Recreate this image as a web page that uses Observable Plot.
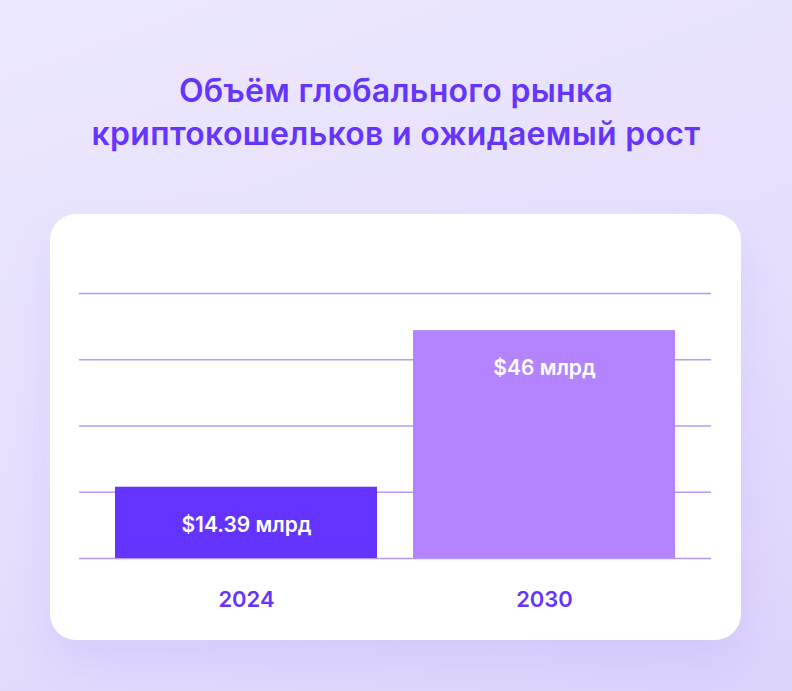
<!DOCTYPE html>
<html>
<head>
<meta charset="utf-8">
<script src="https://cdn.jsdelivr.net/npm/d3@7"></script>
<script src="https://cdn.jsdelivr.net/npm/@observablehq/plot@0.6"></script>
<style>
  html, body { margin: 0; padding: 0; }
  body {
    width: 792px; height: 691px; overflow: hidden; position: relative;
    background: linear-gradient(160deg, #ece8fe 0%, #e6dffd 55%, #ddd3fb 100%);
    font-family: Inter, "Noto Sans", sans-serif;
  }
  #title {
    position: absolute; left: 0; top: 69px; width: 792px;
    text-align: center; color: #6535fb; font-weight: 600;
    font-size: 32px; line-height: 43px; letter-spacing: 0.3px;
  }
  #card {
    position: absolute; left: 50px; top: 214px; width: 691px; height: 426px;
    background: #ffffff; border-radius: 26px;
    box-shadow: 0 22px 44px rgba(110, 70, 250, 0.10);
  }
  #card svg { display: block; }
</style>
</head>
<body>
<div id="title">Объём глобального рынка<br>криптокошельков и ожидаемый рост</div>
<div id="card"></div>
<script>
const years = ["2024", "2030"];
const values = [14.39, 46];
const labels = ["$14.39 млрд", "$46 млрд"];
const barColors = ["#6433ff", "#b483ff"];
const gridValues = [0, 13.4, 26.75, 40.1, 53.5];
const yMax = 53.5;

const data = years.map((y, i) => ({year: y, value: values[i], label: labels[i], color: barColors[i]}));

const chart = Plot.plot({
  width: 691,
  height: 426,
  marginLeft: 29,
  marginRight: 30,
  marginTop: 79,
  marginBottom: 82,
  style: {background: "transparent", fontFamily: "Inter, 'Noto Sans', sans-serif"},
  x: {domain: years, paddingInner: 0.12, paddingOuter: 0.117, label: null},
  y: {domain: [0, yMax], axis: null},
  marks: [
    Plot.ruleY(gridValues, {stroke: "#b49af6", strokeWidth: 1.5}),
    Plot.barY(data, {x: "year", y: "value", fill: "color"}),
    Plot.text(data, {x: "year", y: "value", text: "label", dy: 38, fill: "#ffffff",
      fontSize: 21, fontWeight: 600}),
    Plot.axisX({tickSize: 0, tickPadding: 33, fontSize: 22, fontWeight: 600,
      color: "#6535fb", label: null})
  ]
});
chart.querySelectorAll("g[aria-label='x-axis tick label'] text, g[aria-label='x-axis tick label']").forEach(e => {
  e.setAttribute("fill", "#6535fb");
});
document.getElementById("card").appendChild(chart);
</script>
</body>
</html>
